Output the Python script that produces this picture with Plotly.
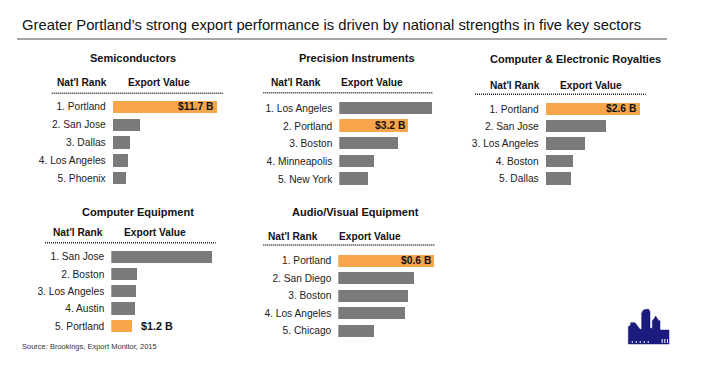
import plotly.graph_objects as go

W, H = 703, 366
FONT = "Liberation Sans, Arial, Helvetica, sans-serif"
ORANGE = "#F7A64B"
GRAY = "#7A7A7A"

MAIN_TITLE = "Greater Portland’s strong export performance is driven by national strengths in five key sectors"
SOURCE = "Source: Brookings, Export Monitor, 2015"
HEAD_RANK = "Nat'l Rank"
HEAD_VALUE = "Export Value"

# ---- data (US$ billions) ----
semi_cities = ["1. Portland", "2. San Jose", "3. Dallas", "4. Los Angeles", "5. Phoenix"]
semi_values = [11.7, 3.07, 1.95, 1.64, 1.50]
semi_labels = ["$11.7 B", "", "", "", ""]

prec_cities = ["1. Los Angeles", "2. Portland", "3. Boston", "4. Minneapolis", "5. New York"]
prec_values = [4.31, 3.2, 2.75, 1.62, 1.36]
prec_labels = ["", "$3.2 B", "", "", ""]

roy_cities = ["1. Portland", "2. San Jose", "3. Los Angeles", "4. Boston", "5. Dallas"]
roy_values = [2.6, 1.67, 1.08, 0.74, 0.69]
roy_labels = ["$2.6 B", "", "", "", ""]

comp_cities = ["1. San Jose", "2. Boston", "3. Los Angeles", "4. Austin", "5. Portland"]
comp_values = [5.66, 1.46, 1.40, 1.33, 1.2]
comp_labels = ["", "", "", "", ""]
comp_outside_label = "$1.2 B"

av_cities = ["1. Portland", "2. San Diego", "3. Boston", "4. Los Angeles", "5. Chicago"]
av_values = [0.6, 0.475, 0.44, 0.42, 0.224]
av_labels = ["$0.6 B", "", "", "", ""]

panels = [
    dict(title="Semiconductors", cities=semi_cities, values=semi_values, labels=semi_labels,
         x0=112.7, ppu=104.0 / 11.7, r1=106.7, r5=178.0, tx=133.3, ty=57.7, hy=82.3,
         hx1=82.3, hx2=159.0, dx0=51.7, dx1=222.7, dy=93.3),
    dict(title="Precision Instruments", cities=prec_cities, values=prec_values, labels=prec_labels,
         x0=339.3, ppu=69.0 / 3.2, r1=108.3, r5=179.0, tx=357.0, ty=58.3, hy=82.3,
         hx1=295.7, hx2=372.2, dx0=263.3, dx1=433.3, dy=92.7),
    dict(title="Computer & Electronic Royalties", cities=roy_cities, values=roy_values, labels=roy_labels,
         x0=545.7, ppu=93.6 / 2.6, r1=109.0, r5=178.7, tx=575.0, ty=59.3, hy=85.7,
         hx1=515.0, hx2=591.3, dx0=475.0, dx1=645.7, dy=94.3),
    dict(title="Computer Equipment", cities=comp_cities, values=comp_values, labels=comp_labels,
         x0=111.3, ppu=21.4 / 1.2, r1=256.7, r5=326.0, tx=138.3, ty=211.7, hy=232.7,
         hx1=78.3, hx2=155.3, dx0=45.0, dx1=215.7, dy=242.7),
    dict(title="Audio/Visual Equipment", cities=av_cities, values=av_values, labels=av_labels,
         x0=338.3, ppu=95.7 / 0.6, r1=260.7, r5=330.7, tx=355.5, ty=212.3, hy=236.7,
         hx1=293.3, hx2=370.3, dx0=263.3, dx1=434.3, dy=245.0),
]


def px(x):
    return x / W


def py(y):
    return 1 - y / H


fig = go.Figure()
annotations = []
shapes = []
DOMAIN_W = 112.0
LABEL_FONT = dict(family=FONT, size=10.3, color="#111", weight="bold")

for i, p in enumerate(panels, start=1):
    xa = "x" if i == 1 else f"x{i}"
    ya = "y" if i == 1 else f"y{i}"
    colors = [ORANGE if "Portland" in c else GRAY for c in p["cities"]]
    sp = (p["r5"] - p["r1"]) / 4.0
    fig.add_trace(go.Bar(
        x=p["values"], y=p["cities"], orientation="h",
        marker=dict(color=colors, line=dict(width=0)),
        width=12.3 / sp,
        cliponaxis=False, hoverinfo="skip",
        xaxis=xa, yaxis=ya, showlegend=False,
    ))
    top = p["r1"] - sp / 2
    bot = p["r5"] + sp / 2
    xkey = "xaxis" if i == 1 else f"xaxis{i}"
    ykey = "yaxis" if i == 1 else f"yaxis{i}"
    fig.update_layout(**{
        xkey: dict(domain=[px(p["x0"]), px(p["x0"] + DOMAIN_W)], range=[0, DOMAIN_W / p["ppu"]],
                   visible=False, anchor=ya, fixedrange=True),
        ykey: dict(domain=[py(bot), py(top)], anchor=xa, type="category",
                   categoryorder="array", categoryarray=p["cities"], range=[4.5, -0.5],
                   showgrid=False, zeroline=False, showline=False, ticks="",
                   ticklabelstandoff=6,
                   tickfont=dict(family=FONT, size=10.2, color="#222"), fixedrange=True),
    })
    # value labels inside the end of the bar
    for c, v, lab in zip(p["cities"], p["values"], p["labels"]):
        if lab:
            annotations.append(dict(x=v, y=c, xref=xa, yref=ya, text=lab, showarrow=False,
                                    xanchor="right", yanchor="middle", xshift=-1,
                                    font=LABEL_FONT))
    annotations.append(dict(x=px(p["tx"]), y=py(p["ty"]), xref="paper", yref="paper",
                            text=p["title"], showarrow=False, xanchor="center", yanchor="middle",
                            font=dict(family=FONT, size=11, color="#111", weight="bold")))
    for txt, cx in ((HEAD_RANK, p["hx1"]), (HEAD_VALUE, p["hx2"])):
        annotations.append(dict(x=px(cx), y=py(p["hy"]), xref="paper", yref="paper",
                                text=txt, showarrow=False, xanchor="center", yanchor="middle",
                                font=dict(family=FONT, size=10.2, color="#111", weight="bold")))
    shapes.append(dict(type="line", xref="paper", yref="paper",
                       x0=px(p["dx0"]), x1=px(p["dx1"]), y0=py(p["dy"]), y1=py(p["dy"]),
                       line=dict(color="#222", width=1.5, dash="1px,1px")))

# outside label for Portland in Computer Equipment
pi = comp_cities.index("5. Portland")
annotations.append(dict(x=comp_values[pi], y=comp_cities[pi], xref="x4", yref="y4",
                        text=comp_outside_label, showarrow=False, xanchor="left", yanchor="middle",
                        xshift=6, font=dict(family=FONT, size=10.8, color="#111", weight="bold")))

# main title, rule and source
annotations.append(dict(x=px(20), y=py(25), xref="paper", yref="paper", text=MAIN_TITLE,
                        showarrow=False, xanchor="left", yanchor="middle",
                        font=dict(family=FONT, size=14.8, color="#111")))
shapes.append(dict(type="line", xref="paper", yref="paper", x0=px(17), x1=px(667),
                   y0=py(39), y1=py(39), line=dict(color="#888", width=1.5)))
annotations.append(dict(x=px(20), y=py(346), xref="paper", yref="paper", text=SOURCE,
                        showarrow=False, xanchor="left", yanchor="middle",
                        font=dict(family=FONT, size=7.5, color="#333")))

# skyline logo (decoration)
LOGO_X, LOGO_Y = 615, 300
outline = [(40, 132), (40, 80), (47, 75), (47, 68), (60, 68), (75, 88), (80, 88), (80, 40), (85, 30),
           (100, 27), (105, 35), (105, 85), (112, 85), (112, 62), (118, 55), (122, 48), (126, 55),
           (132, 62), (135, 62), (135, 90), (162, 90), (162, 132)]


def lp(pt):
    return f"{px(LOGO_X + pt[0] / 3):.5f},{py(LOGO_Y + pt[1] / 3):.5f}"


path = "M " + " L ".join(lp(p) for p in outline) + " Z"
shapes.append(dict(type="path", xref="paper", yref="paper", path=path,
                   fillcolor="#1B1B7E", line=dict(color="#1B1B7E", width=0.5)))
for wx in (50, 62, 74, 86, 98):
    shapes.append(dict(type="rect", xref="paper", yref="paper",
                       x0=px(LOGO_X + wx / 3), x1=px(LOGO_X + wx / 3 + 1.3),
                       y0=py(LOGO_Y + 128 / 3), y1=py(LOGO_Y + 124 / 3),
                       fillcolor="white", line=dict(width=0)))
for wx in (140, 148, 156):
    shapes.append(dict(type="rect", xref="paper", yref="paper",
                       x0=px(LOGO_X + wx / 3), x1=px(LOGO_X + wx / 3 + 1.0),
                       y0=py(LOGO_Y + 129 / 3), y1=py(LOGO_Y + 117 / 3),
                       fillcolor="white", line=dict(width=0)))

fig.update_layout(width=W, height=H, margin=dict(l=0, r=0, t=0, b=0),
                  paper_bgcolor="white", plot_bgcolor="white",
                  annotations=annotations, shapes=shapes, bargap=0,
                  font=dict(family=FONT))

fig.write_html("out.html", config={"displayModeBar": False})
